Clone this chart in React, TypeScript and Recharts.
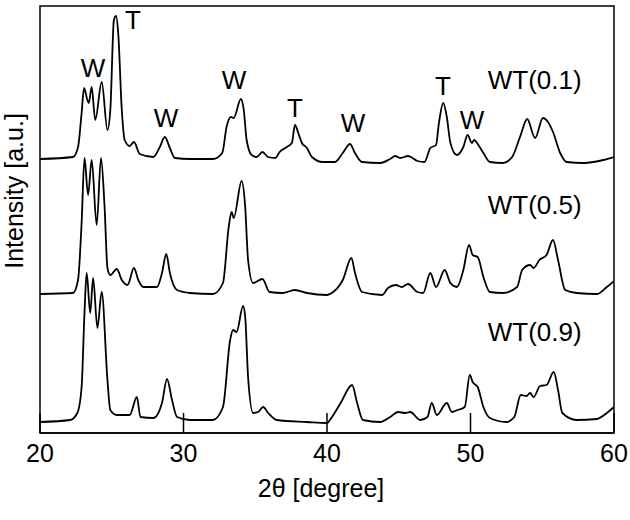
import { LineChart, Line, XAxis, YAxis, ReferenceArea, ReferenceDot } from 'recharts';

// XRD patterns, [2θ, intensity above own baseline]
const wt01: [number, number][] = [
  [20, 0], [22.3, 2], [22.65, 12], [22.9, 46], [23.07, 71], [23.3, 59], [23.4, 56], [23.6, 72],
  [23.85, 39], [24.3, 77], [24.7, 29], [24.9, 49], [25.15, 139], [25.3, 143], [25.45, 126],
  [25.7, 49], [25.9, 19], [26.25, 13], [26.55, 17], [26.95, 5], [27.9, 2], [28.35, 12], [28.7, 22],
  [29.05, 11], [29.4, 1], [30.45, 0], [32.05, 0], [32.7, 6], [33.0, 32], [33.3, 42], [33.5, 41],
  [34.0, 60], [34.2, 49], [34.4, 19], [34.75, 4], [35.1, 2], [35.5, 7], [35.9, 2], [36.4, 1],
  [36.7, 7], [37.2, 12], [37.55, 16], [37.77, 34], [38.0, 26], [38.25, 16], [38.6, 11], [38.95, 2],
  [39.7, -3], [40.55, -3], [41.1, 6], [41.6, 15], [41.95, 6], [42.45, -3], [43.7, -4], [44.4, 0],
  [44.75, 3], [45.1, 1], [45.65, 3], [46.3, -2], [46.8, -3], [47.2, 11], [47.6, 14], [47.8, 36],
  [48.1, 56], [48.35, 42], [48.6, 16], [49.05, 4], [49.5, 12], [49.8, 24], [50.1, 16], [50.25, 19],
  [50.5, 15], [50.9, 6], [51.35, -3], [52.25, -4], [52.9, 2], [53.45, 22], [53.95, 40], [54.5, 21],
  [55.05, 41], [55.4, 37], [55.75, 27], [56.25, 6], [56.7, -3], [57.85, -4], [58.55, -3],
  [59.25, -1], [60, 2],
];

const wt05: [number, number][] = [
  [20, 0], [22.3, 1], [22.65, 14], [22.9, 71], [23.1, 136], [23.35, 99], [23.6, 134], [23.95, 69],
  [24.25, 136], [24.5, 87], [24.7, 26], [24.9, 19], [25.35, 25], [25.7, 14], [26.1, 9], [26.55, 26],
  [26.85, 14], [27.2, 7], [28.15, 7], [28.5, 21], [28.8, 40], [29.05, 21], [29.55, 4], [30.45, 1],
  [32.05, 0], [32.75, 11], [33.15, 67], [33.35, 82], [33.5, 76], [34.05, 113], [34.3, 87],
  [34.5, 34], [34.85, 11], [35.5, 15], [36.0, 2], [36.9, 1], [37.75, 4], [38.6, 1], [40, -1],
  [40.2, 0], [41.1, 14], [41.7, 36], [41.95, 21], [42.45, 2], [43.85, -1], [44.25, 6], [44.8, 9],
  [45.2, 7], [45.65, 10], [46.3, 2], [46.7, 1], [47.2, 21], [47.6, 7], [48.2, 24], [48.6, 11],
  [49.05, 7], [49.5, 24], [49.9, 49], [50.15, 39], [50.5, 37], [50.9, 17], [51.35, 2], [52.25, 1],
  [53.25, 7], [53.6, 24], [54.15, 29], [54.4, 26], [54.8, 34], [55.3, 39], [55.75, 54], [56.1, 34],
  [56.6, 4], [57.4, 1], [58.8, 0], [59.5, 7], [60, 13],
];

const wt09: [number, number][] = [
  [20, -1], [22.1, 1], [22.6, 8], [22.9, 34], [23.1, 108], [23.25, 148], [23.5, 108], [23.7, 143],
  [24.0, 93], [24.3, 129], [24.7, 41], [24.9, 11], [25.35, 6], [26.25, 6], [26.75, 24], [27.0, 4],
  [27.9, 3], [28.5, 18], [28.85, 42], [29.2, 21], [29.55, 4], [30.45, 1], [32.05, 1], [32.75, 14],
  [33.25, 81], [33.45, 91], [33.7, 89], [34.15, 115], [34.3, 104], [34.5, 44], [34.85, 8],
  [35.2, 9], [35.55, 14], [35.9, 8], [36.5, 1], [38.6, -1], [40, -2], [40.2, 1], [40.95, 18],
  [41.75, 36], [42.1, 18], [42.5, 1], [43.7, -1], [44.4, 4], [44.95, 9], [45.45, 8], [45.8, 9],
  [46.5, 1], [47.0, 4], [47.3, 18], [47.65, 6], [48.35, 18], [48.7, 9], [49.1, 11], [49.6, 14],
  [49.95, 46], [50.15, 39], [50.5, 34], [50.9, 14], [51.35, 3], [52.5, -1], [53.05, 4], [53.5, 26],
  [53.9, 25], [54.15, 28], [54.4, 24], [54.85, 35], [55.3, 36], [55.8, 49], [56.1, 31], [56.4, 8],
  [57.4, 1], [58.8, 2], [59.5, 8], [60, 14],
];

const patterns = [wt01, wt05, wt09];
const names = ['WT(0.1)', 'WT(0.5)', 'WT(0.9)'];
const offsets = [274, 139, 12];
const nameHeights = [79, 89, 89];
const nameTheta = 51.2;

const xTicks = [20, 30, 40, 50, 60];

// phase markers: W = WO3, T = TiO2
const peakLabels = [
  { text: 'W', theta: 23.69, value: 365 },
  { text: 'T', theta: 26.48, value: 413 },
  { text: 'W', theta: 28.78, value: 315 },
  { text: 'W', theta: 33.52, value: 353 },
  { text: 'T', theta: 37.77, value: 325 },
  { text: 'W', theta: 41.81, value: 310 },
  { text: 'T', theta: 48.08, value: 347 },
  { text: 'W', theta: 50.1, value: 313 },
];

const XTick = (props: any) => {
  const { x, y, payload } = props;
  return (
    <g>
      <line x1={x} x2={x} y1={y} y2={y - 20} stroke="#000" strokeWidth={1.5} />
      <text x={x} y={y + 29} textAnchor="middle" fontSize={25} fill="#000">
        {payload.value}
      </text>
    </g>
  );
};

export default function App() {
  return (
    <div style={{ position: 'absolute', left: 0, top: 0, fontFamily: '"Liberation Sans", Arial, sans-serif' }}>
      <LineChart width={630} height={520} margin={{ top: 6, right: 16, left: 0, bottom: 0 }}>
        <XAxis
          dataKey="t"
          type="number"
          domain={[20, 60]}
          ticks={xTicks}
          allowDataOverflow
          height={87}
          tickSize={0}
          tickMargin={0}
          tickLine={false}
          axisLine={{ stroke: '#000', strokeWidth: 1.5 }}
          tick={<XTick />}
          label={{
            content: (p: any) => (
              <text x={p.viewBox.x + p.viewBox.width / 2 - 6} y={p.viewBox.y + 64} textAnchor="middle" fontSize={25} fill="#000">
                2θ [degree]
              </text>
            ),
          }}
        />
        <YAxis
          type="number"
          domain={[0, 427]}
          allowDataOverflow
          width={40}
          tick={false}
          tickLine={false}
          axisLine={false}
          label={{
            content: (p: any) => {
              const cx = p.viewBox.x + 23;
              const cy = p.viewBox.y + 185;
              return (
                <text x={cx} y={cy} transform={`rotate(-90 ${cx} ${cy})`} textAnchor="middle" fontSize={25} fill="#000">
                  Intensity [a.u.]
                </text>
              );
            },
          }}
        />
        <ReferenceArea x1={20} x2={60} y1={0} y2={427} fill="none" stroke="#000" strokeWidth={1.5} />
        {patterns.map((pts, i) => (
          <Line
            key={names[i]}
            data={pts.map(([t, v]) => ({ t, v: v + offsets[i] }))}
            dataKey="v"
            type="monotone"
            stroke="#000"
            strokeWidth={1.8}
            dot={false}
            isAnimationActive={false}
          />
        ))}
        {names.map((n, i) => (
          <ReferenceDot
            key={n}
            x={nameTheta}
            y={offsets[i] + nameHeights[i]}
            r={0}
            fill="none"
            stroke="none"
            label={{ value: n, position: 'right', offset: 0, fontSize: 26, fill: '#000' }}
          />
        ))}
        {peakLabels.map((p, i) => (
          <ReferenceDot
            key={`pk-${i}`}
            x={p.theta}
            y={p.value}
            r={0}
            fill="none"
            stroke="none"
            label={{ value: p.text, position: 'center', fontSize: 26, fill: '#000' }}
          />
        ))}
      </LineChart>
    </div>
  );
}
